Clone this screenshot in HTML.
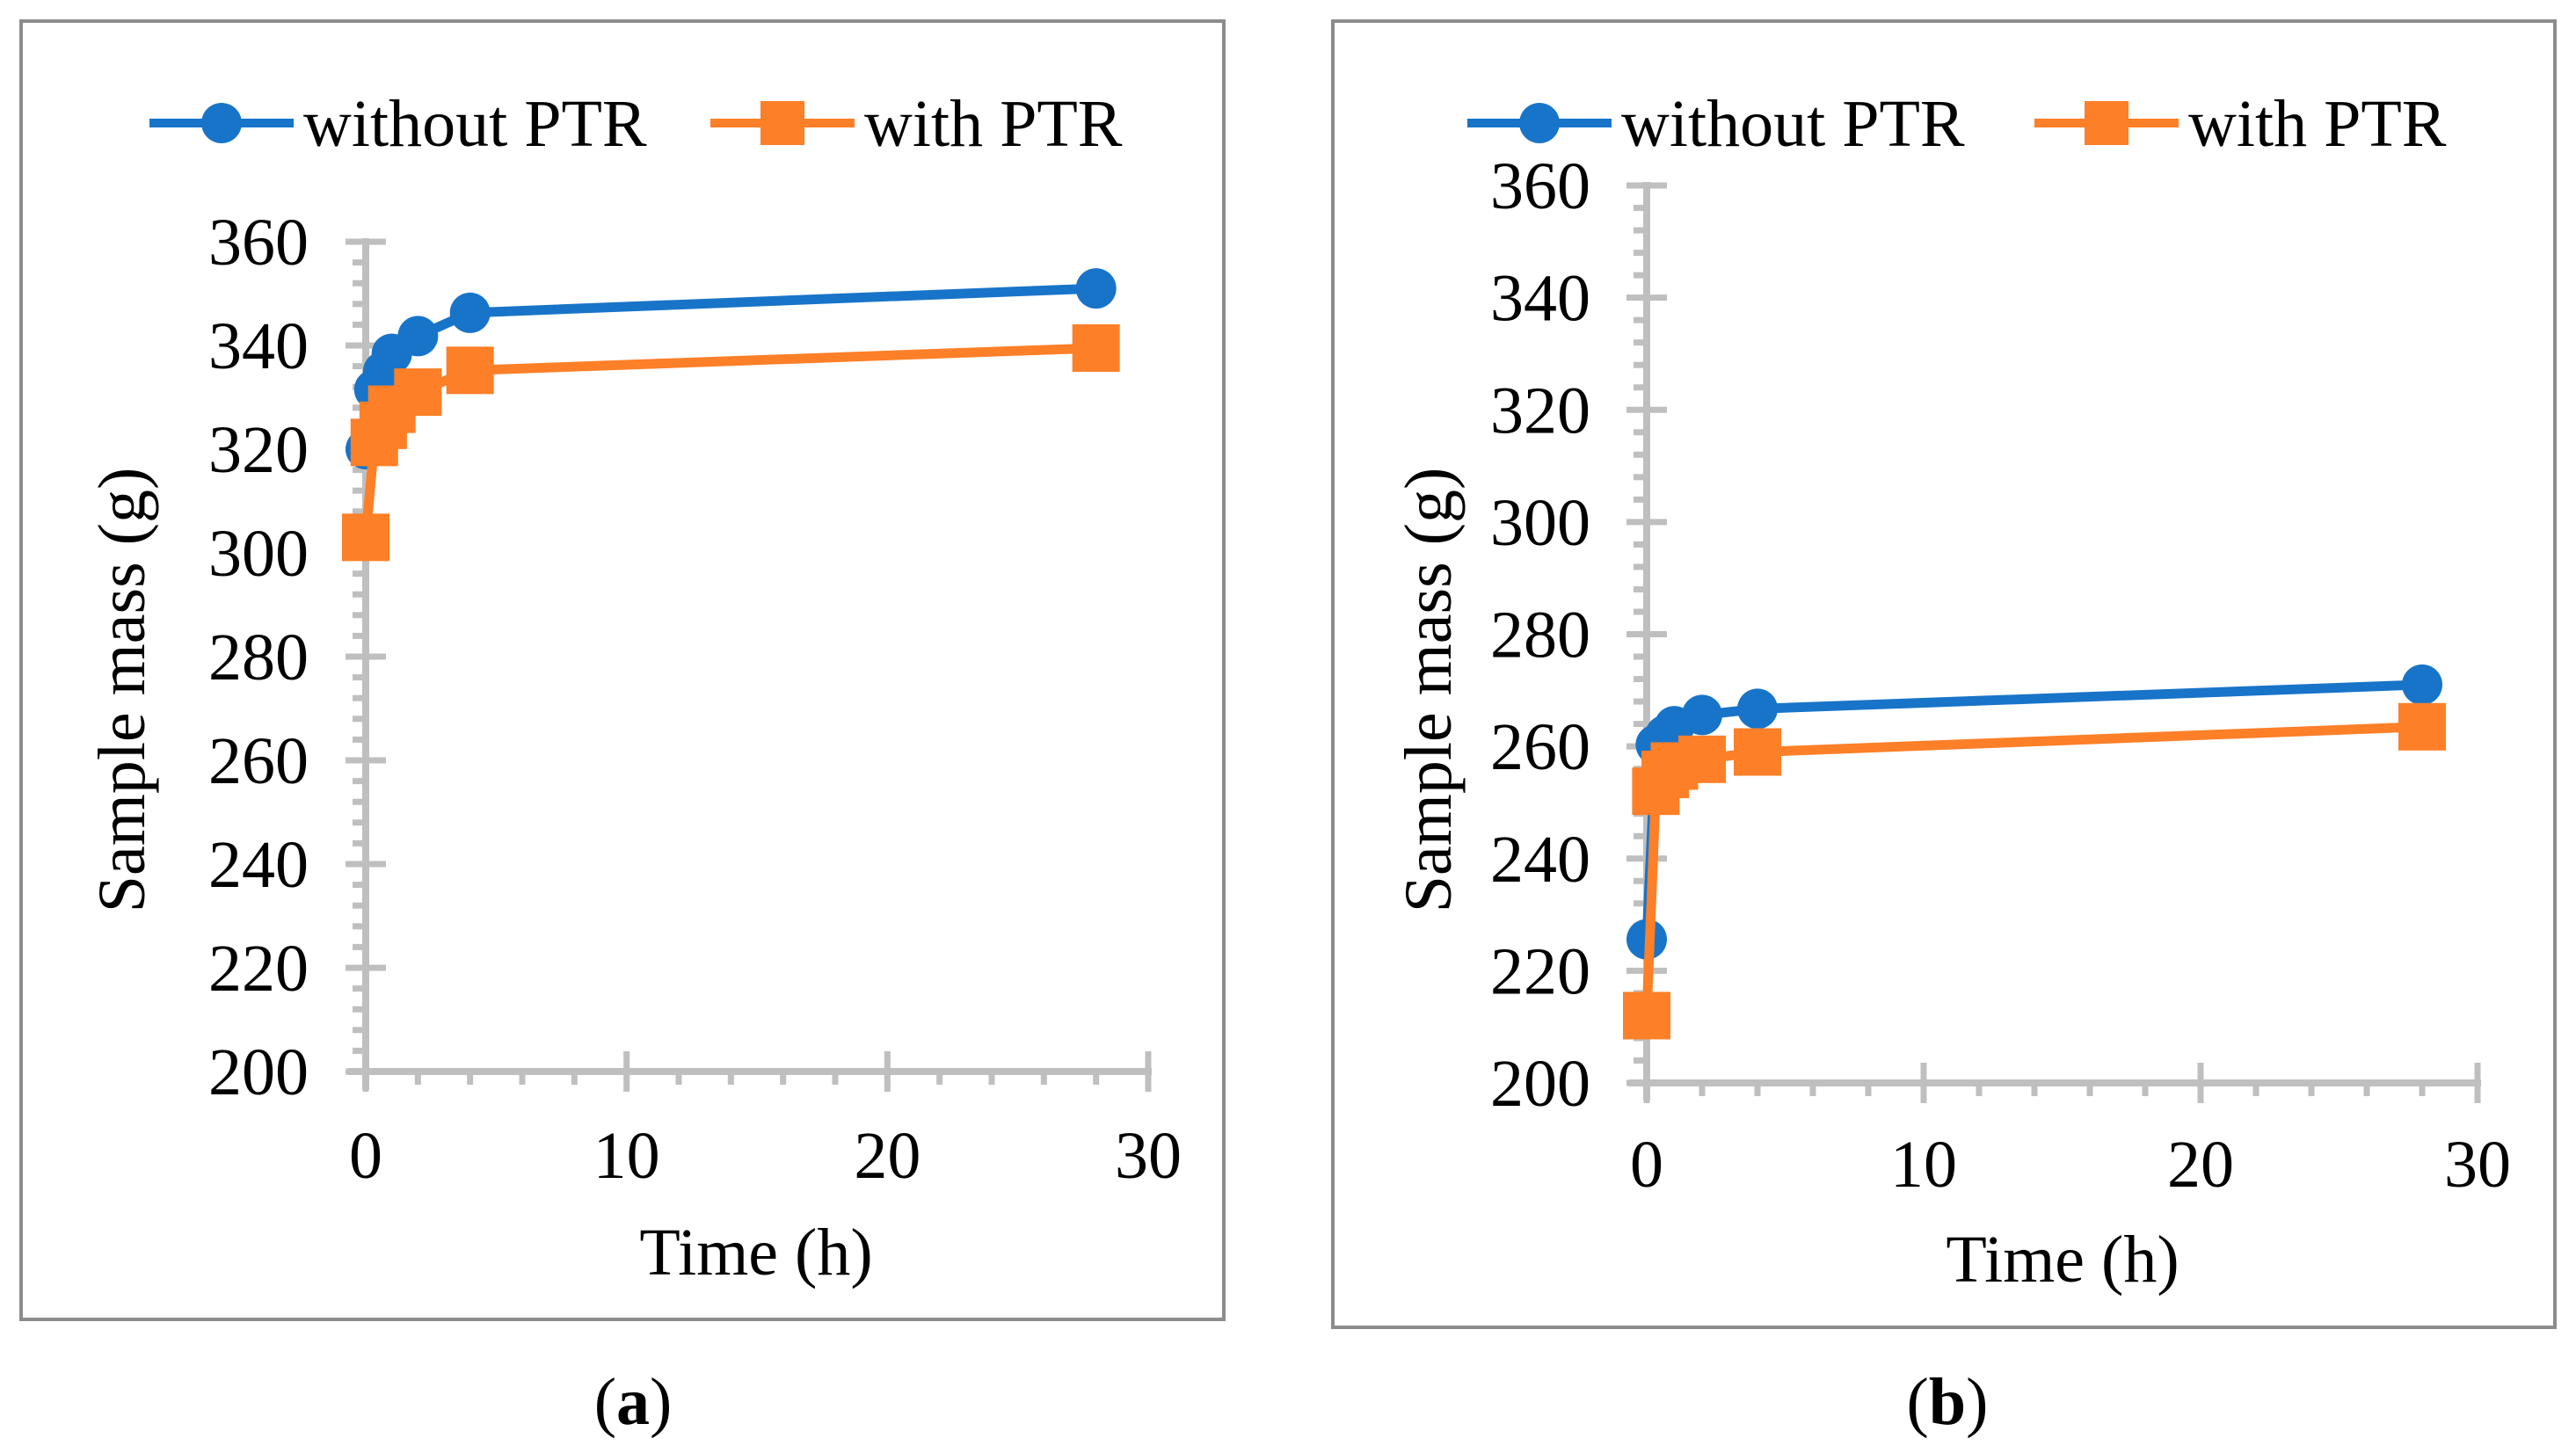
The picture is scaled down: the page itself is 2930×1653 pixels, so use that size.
<!DOCTYPE html>
<html><head><meta charset="utf-8"><style>
body{margin:0;background:#fff;}
svg{display:block;font-family:"Liberation Serif",serif;}
</style></head><body>
<svg id="c" width="2930" height="1653" xmlns="http://www.w3.org/2000/svg"></svg>
<script>
const times = [0, 0.33, 0.67, 1, 2, 4, 28];
const aWithout = [320, 331.5, 335, 338.4, 341.8, 346.3, 351];
const aWith = [303, 321.3, 324.6, 327.7, 331, 335.2, 339.5];
const bWithout = [225.6, 260.3, 262, 263.6, 265.6, 266.7, 271];
const bWith = [212, 252, 255, 256.5, 257.7, 259, 263.5];
const yTicks = [200, 220, 240, 260, 280, 300, 320, 340, 360];
const xTicks = [0, 10, 20, 30];
const seriesNames = ["without PTR", "with PTR"];

const NS = "http://www.w3.org/2000/svg";
const svg = document.getElementById('c');
function mk(tag, attrs, parent){const e=document.createElementNS(NS,tag);for(const k in attrs)e.setAttribute(k,attrs[k]);(parent||svg).appendChild(e);return e;}
const BLUE="#1874c8", ORANGE="#fd7f27", GRAY="#bfbfbf";
const FS=76;

function panel(p){
  const g=mk('g',{});
  
  
  const fr=mk('rect',{x:p.fx,y:p.fy,width:p.fw,height:p.fh,fill:'none',stroke:'#8c8c8c','stroke-width':4},g);
  
  
  const X=v=>p.x0+(v-0)*(p.x30-p.x0)/30;
  const Y=v=>p.y200-(v-200)*(p.y200-p.y360)/160;
  const ya=mk('line',{x1:X(0),y1:Y(360)-4,x2:X(0),y2:Y(200)+20,stroke:GRAY,'stroke-width':8},g);
  
  
  const xa=mk('line',{x1:X(0)-20,y1:Y(200),x2:X(30)+4,y2:Y(200),stroke:GRAY,'stroke-width':8},g);
  
  
  for(let v=200; v<=360; v+=4){
    const major=(v%20===0);
    const t=mk('line',{x1:X(0)-(major?23:15),y1:Y(v),x2:X(0)+(major?23:0),y2:Y(v),stroke:GRAY,'stroke-width':7},g);
    
    
  }
  for(let v=0; v<=30; v+=2){
    const major=(v%10===0);
    const t=mk('line',{x1:X(v),y1:Y(200)-(major?23:0),x2:X(v),y2:Y(200)+(major?23:15),stroke:GRAY,'stroke-width':7},g);
    
    
  }
  yTicks.forEach(v=>{
    const t=mk('text',{x:p.ylx,y:Y(v)+26,'text-anchor':'end','font-size':FS},g);t.textContent=v;
    
    
  });
  xTicks.forEach(v=>{
    const t=mk('text',{x:X(v),y:p.xly,'text-anchor':'middle','font-size':FS},g);t.textContent=v;
    
    
  });
  const yt=mk('text',{x:0,y:0,'text-anchor':'middle','font-size':FS,transform:`translate(${p.ytx},${p.yty}) rotate(-90)`},g);yt.textContent="Sample mass (g)";
  
  
  const xt=mk('text',{x:p.xtx,y:p.xty,'text-anchor':'middle','font-size':FS},g);xt.textContent="Time (h)";
  
  
  const cap=mk('text',{x:p.capx,y:1620,'text-anchor':'middle','font-size':FS},g);
  cap.innerHTML='(<tspan font-weight="bold">'+p.id+'</tspan>)';
  
  
  [[p.s1,BLUE,'circle'],[p.s2,ORANGE,'square']].forEach(([vals,col,shape],si)=>{
    const pts=times.map((t,i)=>X(t)+','+Y(vals[i])).join(' ');
    const pl=mk('polyline',{points:pts,fill:'none',stroke:col,'stroke-width':11,'stroke-linejoin':'round'},g);
    
    
    times.forEach((t,i)=>{
      let m;
      if(shape==='circle') m=mk('circle',{cx:X(t),cy:Y(vals[i]),r:23,fill:col},g);
      else m=mk('rect',{x:X(t)-27,y:Y(vals[i])-27,width:54,height:54,fill:col},g);
      
      
    });
  });
  const L=[[p.l1,BLUE,'circle',seriesNames[0]],[p.l2,ORANGE,'square',seriesNames[1]]];
  L.forEach(([lx,col,shape,name])=>{
    const lg=mk('g',{},g);
    
    
    mk('line',{x1:lx-82,y1:140,x2:lx+82,y2:140,stroke:col,'stroke-width':10},lg);
    if(shape==='circle') mk('circle',{cx:lx,cy:140,r:23,fill:col},lg);
    else mk('rect',{x:lx-25,y:115,width:50,height:50,fill:col},lg);
    const t=mk('text',{x:lx+93,y:166,'font-size':FS},lg);t.textContent=name;
  });
}
panel({id:'a',fx:24,fy:24,fw:1368,fh:1477,x0:416,x30:1306,y360:275,y200:1219,ylx:351,xly:1340,
  ytx:164,yty:785,xtx:860,xty:1450,capx:720,s1:aWithout,s2:aWith,l1:252,l2:890});
panel({id:'b',fx:1516,fy:24,fw:1390,fh:1486,x0:1873,x30:2818,y360:211,y200:1232,ylx:1809,xly:1350,
  ytx:1650,yty:785,xtx:2346,xty:1458,capx:2215,s1:bWithout,s2:bWith,l1:1751,l2:2396});
</script>
</body></html>
